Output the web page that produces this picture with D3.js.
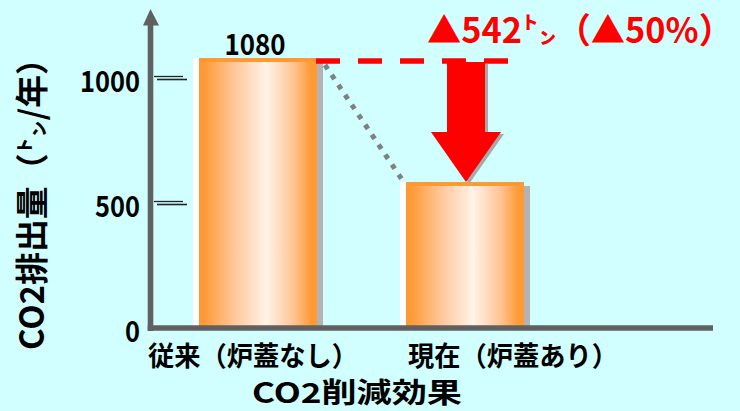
<!DOCTYPE html>
<html>
<head>
<meta charset="utf-8">
<script src="https://cdn.jsdelivr.net/npm/d3@7"></script>
<style>
  html, body { margin: 0; padding: 0; background: #D1FFFF; }
  svg { display: block; }
  text { font-family: "Noto Sans CJK JP", "Noto Sans", sans-serif; }
</style>
</head>
<body>
<script>
// ---- data ----
const categories = ["従来（炉蓋なし）", "現在（炉蓋あり）"];
const values = [1080, 584];
const valueLabels = ["1080", ""];
const yTicks = [0, 500, 1000];
const yTickLabels = ["0", "500", "1000"];
const reductionLabel = "▲542㌧（▲50%）";
const yTitle = "CO2排出量（㌧/年）";
const xTitle = "CO2削減効果";

// ---- setup ----
const W = 740, H = 411;
const svg = d3.select("body").append("svg").attr("width", W).attr("height", H);
svg.append("rect").attr("width", W).attr("height", H).attr("fill", "#D1FFFF");

const y = d3.scaleLinear().domain([0, 1000]).range([328, 78]);
const xBar = d3.scaleBand().domain(categories).range([199, 524]).paddingInner(0.43).paddingOuter(0);
const xLab = d3.scalePoint().domain(categories).range([253, 513]);
const bw = xBar.bandwidth();

// gradient
const defs = svg.append("defs");
const grad = defs.append("linearGradient").attr("id", "barGrad")
  .attr("x1", "0").attr("x2", "1").attr("y1", "0").attr("y2", "0");
[[0, "#FF9933"], [0.05, "#FF9B38"], [0.3, "#FFC79A"], [0.57, "#FFF3E8"], [0.8, "#FFC494"], [0.95, "#FF9A36"], [1, "#FF9933"]]
  .forEach(([o, c]) => grad.append("stop").attr("offset", o).attr("stop-color", c));

// bars
const bars = svg.append("g").selectAll("g").data(categories).join("g");
bars.append("rect") // white left strip
  .attr("x", d => xBar(d) - 6).attr("width", 6)
  .attr("y", (d, i) => y(values[i])).attr("height", (d, i) => y(0) - y(values[i]))
  .attr("fill", "#FFFFFF");
bars.append("rect") // gray right strip
  .attr("x", d => xBar(d) + bw).attr("width", 6)
  .attr("y", (d, i) => y(values[i]) + 4).attr("height", (d, i) => y(0) - y(values[i]) - 4)
  .attr("fill", "#B3B3B3");
bars.append("rect") // main body
  .attr("x", d => xBar(d)).attr("width", bw)
  .attr("y", (d, i) => y(values[i])).attr("height", (d, i) => y(0) - y(values[i]))
  .attr("fill", "url(#barGrad)");
bars.append("rect") // top strip
  .attr("x", d => xBar(d)).attr("width", bw)
  .attr("y", (d, i) => y(values[i])).attr("height", 4)
  .attr("fill", "#FF9933");

// value label
svg.append("g").selectAll("text").data(categories.filter((d, i) => valueLabels[i])).join("text")
  .attr("x", d => xBar(d) + bw / 2 - 3)
  .attr("y", d => y(values[categories.indexOf(d)]) - 3)
  .attr("text-anchor", "middle")
  .attr("font-size", 29).attr("font-weight", 700)
  .attr("textLength", 61)
  .attr("lengthAdjust", "spacingAndGlyphs")
  .attr("fill", "#000")
  .text(d => valueLabels[categories.indexOf(d)]);

// gray dotted connector
const b0 = categories[0], b1 = categories[1];
svg.append("line")
  .attr("x1", xBar(b0) + bw + 8).attr("y1", y(values[0]) + 7)
  .attr("x2", xBar(b1) - 3).attr("y2", y(values[1]) - 1)
  .attr("stroke", "#808080").attr("stroke-width", 5)
  .attr("stroke-dasharray", "5,7");

// red dashed line
svg.append("line")
  .attr("x1", xBar(b0) + bw - 1).attr("x2", xBar(b1) + bw - 16)
  .attr("y1", y(values[0]) + 3).attr("y2", y(values[0]) + 3)
  .attr("stroke", "#FF0000").attr("stroke-width", 5.5)
  .attr("stroke-dasharray", "24,18");

// red arrow
const cx = xBar(b1) + bw / 2 + 1;
const aTop = y(values[0]) + 4, aTip = y(values[1]);
const headY = aTip - 50;
const arrowPts = [
  [cx - 19, aTop], [cx + 19, aTop], [cx + 19, headY], [cx + 35, headY],
  [cx, aTip], [cx - 35, headY], [cx - 19, headY]
];
const line = d3.line();
svg.append("path").attr("d", line(arrowPts) + "Z")
  .attr("transform", "translate(3,2)").attr("fill", "#A8A8A8");
svg.append("path").attr("d", line(arrowPts) + "Z").attr("fill", "#FF0000");

// reduction label
svg.append("text")
  .attr("x", 427).attr("y", 43)
  .attr("font-size", 35).attr("font-weight", 700)
  .attr("fill", "#FF0000")
  .attr("textLength", 306).attr("lengthAdjust", "spacingAndGlyphs")
  .text(reductionLabel);

// y tick marks (double lines)
const ticks = svg.append("g").selectAll("g").data(yTicks.filter(t => t > 0)).join("g");
ticks.append("line")
  .attr("x1", 154).attr("x2", 183)
  .attr("y1", d => y(d) - 1.5).attr("y2", d => y(d) - 1.5)
  .attr("stroke", "#222").attr("stroke-width", 1.3);
ticks.append("line")
  .attr("x1", 157).attr("x2", 187)
  .attr("y1", d => y(d) + 1.5).attr("y2", d => y(d) + 1.5)
  .attr("stroke", "#222").attr("stroke-width", 1.6);

// y tick labels
svg.append("g").selectAll("text").data(yTicks).join("text")
  .attr("x", 140).attr("y", d => y(d) + 14)
  .attr("text-anchor", "end")
  .attr("font-size", 29).attr("font-weight", 700)
  .attr("textLength", (d, i) => yTickLabels[i].length * 15)
  .attr("lengthAdjust", "spacingAndGlyphs")
  .text((d, i) => yTickLabels[i]);

// axes
svg.append("line").attr("x1", 150.5).attr("x2", 150.5).attr("y1", 24).attr("y2", y(0) + 3)
  .attr("stroke", "#606060").attr("stroke-width", 5.6);
svg.append("path").attr("d", line([[143, 25.5], [159, 25.5], [150.5, 9]]) + "Z").attr("fill", "#606060");
svg.append("line").attr("x1", 147.7).attr("x2", 713).attr("y1", y(0)).attr("y2", y(0))
  .attr("stroke", "#606060").attr("stroke-width", 5.6);

// category labels
svg.append("g").selectAll("text").data(categories).join("text")
  .attr("x", d => xLab(d)).attr("y", 366)
  .attr("text-anchor", "middle")
  .attr("font-size", 27).attr("font-weight", 700)
  .attr("textLength", 210).attr("lengthAdjust", "spacingAndGlyphs")
  .text(d => d);

// x title
svg.append("text")
  .attr("x", 357).attr("y", 403)
  .attr("text-anchor", "middle")
  .attr("font-size", 28).attr("font-weight", 700)
  .attr("textLength", 210).attr("lengthAdjust", "spacingAndGlyphs")
  .text(xTitle);

// y title
svg.append("text")
  .attr("transform", "translate(44,196) rotate(-90)")
  .attr("text-anchor", "middle")
  .attr("font-size", 33).attr("font-weight", 700)
  .attr("textLength", 308).attr("lengthAdjust", "spacingAndGlyphs")
  .text(yTitle);
</script>
</body>
</html>
